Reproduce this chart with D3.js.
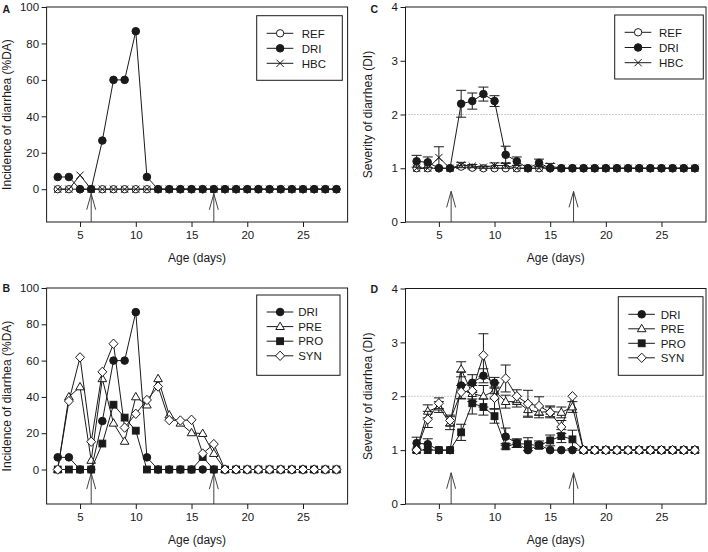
<!DOCTYPE html>
<html><head><meta charset="utf-8">
<script src="https://cdn.jsdelivr.net/npm/d3@7"></script>
<style>
body{margin:0;background:#fff}
svg{display:block}
</style>
</head><body>
<svg id="c" width="708" height="552"></svg>
<script>
// ---------------- DATA ----------------
const days = [3,4,5,6,7,8,9,10,11,12,13,14,15,16,17,18,19,20,21,22,23,24,25,26,27,28];
const xTicks = [5,10,15,20,25];
const incTicks = [0,20,40,60,80,100];
const sevTicks = [0,1,2,3,4];
const arrowDaysAB = [6,17];
const arrowDaysCD = [6.1,17.1];

// Panel A / B : incidence of diarrhea (%DA)
const incREF = [0,0,0,0,0,0,0,0,0,0,0,0,0,0,0,0,0,0,0,0,0,0,0,0,0,0];
const incDRI = [6.7,6.7,0,0,26.7,60,60,86.7,6.7,0,0,0,0,0,0,0,0,0,0,0,0,0,0,0,0,0];
const incHBC = [0,0,7.7,0,0,0,0,0,0,0,0,0,0,0,0,0,0,0,0,0,0,0,0,0,0,0];
const incPRE = [0,40,45.5,5,50,25.5,15.5,40,35.5,50,30,25.5,20.2,19.8,8.8,0,0,0,0,0,0,0,0,0,0,0];
const incPRO = [0,0,0,0,14.3,35.7,28.6,21.4,0,0,0,0,0,6.9,0,0,0,0,0,0,0,0,0,0,0,0];
const incSYN = [0,37.7,61.8,15.3,53.8,69.3,23.1,30.7,38.3,45.7,27.2,27,27.4,8.8,14,0,0,0,0,0,0,0,0,0,0,0];

// Panel C / D : severity of diarrhea (DI), mean and SE
const sevREF   = [1,1,1,1,1.03,1.01,1,1,1,1,1,1,1,1,1,1,1,1,1,1,1,1,1,1,1,1];
const sevREFse = [0,0,0,0,0.03,0.02,0,0,0,0,0,0,0,0,0,0,0,0,0,0,0,0,0,0,0,0];
const sevHBC   = [1,1,1.2,1,1.06,1.04,1.02,1.05,1.05,1,1,1,1.04,1,1,1,1,1,1,1,1,1,1,1,1,1];
const sevHBCse = [0,0,0.2,0,0.05,0.03,0.02,0.05,0.05,0,0,0,0.05,0,0,0,0,0,0,0,0,0,0,0,0,0];
const sevDRI   = [1.13,1.11,1,1,2.2,2.25,2.38,2.25,1.25,1.13,1,1.1,1,1,1,1,1,1,1,1,1,1,1,1,1,1];
const sevDRIse = [0.11,0.1,0,0,0.25,0.15,0.13,0.1,0.16,0.08,0,0.07,0,0,0,0,0,0,0,0,0,0,0,0,0,0];
const sevPRE   = [1,1.72,1.8,1.5,2.5,2.05,2.0,2.1,1.9,1.9,1.75,1.7,1.72,1.7,1.8,1,1,1,1,1,1,1,1,1,1,1];
const sevPREse = [0,0.12,0.1,0.12,0.14,0.15,0.2,0.15,0.12,0.1,0.12,0.1,0.1,0.1,0.1,0,0,0,0,0,0,0,0,0,0,0];
const sevPRO   = [1,1,1,1,1.33,1.87,1.8,1.63,1.07,1.12,1.11,1.08,1.18,1.26,1.2,1,1,1,1,1,1,1,1,1,1,1];
const sevPROse = [0,0,0,0,0.15,0.2,0.15,0.13,0.05,0.07,0.12,0.05,0.1,0.12,0.17,0,0,0,0,0,0,0,0,0,0,0];
const sevSYN   = [1,1.57,1.87,1.55,2.08,2.1,2.76,1.97,2.33,2.0,1.86,1.82,1.7,1.43,2.0,1,1,1,1,1,1,1,1,1,1,1];
const sevSYNse = [0,0.15,0.1,0.1,0.12,0.15,0.4,0.2,0.25,0.12,0.25,0.17,0.1,0.12,0,0,0,0,0,0,0,0,0,0,0,0];

// ---------------- DRAWING ----------------
const FONT = '"Liberation Sans", Arial, Helvetica, sans-serif';
const INK = "#1a1a1a";
const svg = d3.select("#c");

const markers = {
  circleOpen:  (g) => g.append("circle").attr("r", 3.7).attr("fill", "#fff").attr("stroke", INK),
  circleFill:  (g) => g.append("circle").attr("r", 3.8).attr("fill", INK).attr("stroke", INK),
  cross:       (g) => g.append("path").attr("d", "M-3.6,-3.6L3.6,3.6M-3.6,3.6L3.6,-3.6").attr("fill", "none").attr("stroke", INK),
  triangle:    (g) => g.append("path").attr("d", "M0,-4.5L4.3,2.9L-4.3,2.9Z").attr("fill", "#fff").attr("stroke", INK),
  square:      (g) => g.append("rect").attr("x", -3.4).attr("y", -3.4).attr("width", 6.8).attr("height", 6.8).attr("fill", INK).attr("stroke", INK),
  diamond:     (g) => g.append("path").attr("d", "M0,-4.7L4.5,0L0,4.7L-4.5,0Z").attr("fill", "#fff").attr("stroke", INK)
};

function drawPanel(cfg) {
  const g = svg.append("g");
  const x = d3.scaleLinear().domain([2, 29]).range([cfg.left, cfg.right]);
  const y = d3.scaleLinear().domain(cfg.yDomain).range([cfg.bottom, cfg.top]);

  // reference dotted line
  if (cfg.refLine !== undefined) {
    g.append("line")
      .attr("x1", cfg.left).attr("x2", cfg.right)
      .attr("y1", y(cfg.refLine)).attr("y2", y(cfg.refLine))
      .attr("stroke", "#9a9a9a").attr("stroke-width", 1).attr("stroke-dasharray", "1,2");
  }

  // arrows
  cfg.arrows.forEach(d => {
    const ax = x(d), ty = y(cfg.arrowTip);
    g.append("line").attr("x1", ax).attr("x2", ax).attr("y1", ty).attr("y2", cfg.bottom)
      .attr("stroke", "#444").attr("stroke-width", 1);
    g.append("path").attr("d", `M${ax-4.5},${ty+16}L${ax},${ty}L${ax+4.5},${ty+16}`)
      .attr("fill", "none").attr("stroke", "#444").attr("stroke-width", 1);
  });

  // series
  const line = d3.line().x((v, i) => x(days[i])).y(v => y(v));
  cfg.series.forEach(s => {
    const sg = g.append("g");
    sg.append("path").attr("d", line(s.values)).attr("fill", "none").attr("stroke", INK).attr("stroke-width", 1);
    if (s.se) {
      s.values.forEach((v, i) => {
        const e = s.se[i];
        if (!e) return;
        const cx = x(days[i]);
        sg.append("path")
          .attr("d", `M${cx},${y(v - e)}L${cx},${y(v + e)}M${cx-5},${y(v + e)}L${cx+5},${y(v + e)}M${cx-5},${y(v - e)}L${cx+5},${y(v - e)}`)
          .attr("fill", "none").attr("stroke", INK).attr("stroke-width", 1);
      });
    }
    s.values.forEach((v, i) => {
      const mg = sg.append("g").attr("transform", `translate(${x(days[i])},${y(v)})`);
      markers[s.marker](mg).attr("stroke-width", 1);
    });
  });

  // frame
  g.append("rect").attr("x", cfg.left).attr("y", cfg.top)
    .attr("width", cfg.right - cfg.left).attr("height", cfg.bottom - cfg.top)
    .attr("fill", "none").attr("stroke", INK).attr("stroke-width", 1);

  // axes
  const xa = g.append("g").attr("transform", `translate(0,${cfg.bottom})`)
    .call(d3.axisBottom(x).tickValues(xTicks).tickSize(5).tickPadding(4).tickFormat(d3.format("d")));
  const ya = g.append("g").attr("transform", `translate(${cfg.left},0)`)
    .call(d3.axisLeft(y).tickValues(cfg.yTicks).tickSize(5).tickPadding(2.5).tickFormat(d3.format("d")));
  [xa, ya].forEach(a => {
    a.select(".domain").remove();
    a.attr("font-family", FONT).attr("font-size", 11.5);
    a.selectAll("line").attr("stroke", INK);
    a.selectAll("text").attr("fill", INK);
  });

  // axis titles
  g.append("text").attr("x", (cfg.left + cfg.right) / 2).attr("y", cfg.bottom + 39.5)
    .attr("text-anchor", "middle").attr("font-family", FONT).attr("font-size", 12).attr("fill", INK)
    .text("Age (days)");
  g.append("text")
    .attr("transform", `translate(${cfg.yTitleX},${(cfg.top + cfg.bottom) / 2}) rotate(-90)`)
    .attr("text-anchor", "middle").attr("font-family", FONT).attr("font-size", 12).attr("fill", INK)
    .text(cfg.yTitle);

  // panel letter
  g.append("text").attr("x", cfg.letterX).attr("y", cfg.letterY)
    .attr("font-family", FONT).attr("font-size", 10.5).attr("font-weight", "bold").attr("fill", INK)
    .text(cfg.letter);

  // legend
  const L = cfg.legend;
  const lg = g.append("g");
  lg.append("rect").attr("x", L.x).attr("y", L.y).attr("width", L.w).attr("height", L.h)
    .attr("fill", "#fff").attr("stroke", INK).attr("stroke-width", 1);
  cfg.series.slice().sort((a, b) => a.legendOrder - b.legendOrder).forEach((s, i) => {
    const ry = L.y + L.first + i * L.step;
    lg.append("line").attr("x1", L.x + 10).attr("x2", L.x + 36.6).attr("y1", ry).attr("y2", ry)
      .attr("stroke", INK).attr("stroke-width", 1);
    const mg = lg.append("g").attr("transform", `translate(${L.x + 23.4},${ry})`);
    markers[s.marker](mg).attr("stroke-width", 1);
    lg.append("text").attr("x", L.x + L.textDx).attr("y", ry + 4.2)
      .attr("font-family", FONT).attr("font-size", 11.5).attr("fill", INK).text(s.name);
  });
}

drawPanel({
  letter: "A", letterX: 2.5, letterY: 13,
  left: 46.6, right: 347.6, top: 7, bottom: 222,
  yDomain: [-18, 100], yTicks: incTicks, yTitle: "Incidence of diarrhea (%DA)", yTitleX: 10.5,
  arrows: arrowDaysAB, arrowTip: -2.5,
  legend: {x: 256.7, y: 15.7, w: 85.6, h: 64.6, first: 17.6, step: 15, textDx: 45},
  series: [
    {name: "REF", values: incREF, marker: "circleOpen", legendOrder: 0},
    {name: "HBC", values: incHBC, marker: "cross", legendOrder: 2},
    {name: "DRI", values: incDRI, marker: "circleFill", legendOrder: 1}
  ]
});

drawPanel({
  letter: "B", letterX: 2.5, letterY: 292,
  left: 46.6, right: 347.6, top: 288, bottom: 504,
  yDomain: [-19, 100], yTicks: incTicks, yTitle: "Incidence of diarrhea (%DA)", yTitleX: 10.5,
  arrows: arrowDaysAB, arrowTip: -2,
  legend: {x: 256.7, y: 295, w: 83.3, h: 80.3, first: 17, step: 14.6, textDx: 41.5},
  series: [
    {name: "PRE", values: incPRE, marker: "triangle", legendOrder: 1},
    {name: "PRO", values: incPRO, marker: "square", legendOrder: 2},
    {name: "DRI", values: incDRI, marker: "circleFill", legendOrder: 0},
    {name: "SYN", values: incSYN, marker: "diamond", legendOrder: 3}
  ]
});

drawPanel({
  letter: "C", letterX: 370.5, letterY: 12.5, refLine: 2,
  left: 405.5, right: 706, top: 7, bottom: 222,
  yDomain: [0, 4], yTicks: sevTicks, yTitle: "Severity of diarrhea (DI)", yTitleX: 372,
  arrows: arrowDaysCD, arrowTip: 0.57,
  legend: {x: 614.7, y: 15, w: 88.6, h: 64, first: 17.3, step: 15.2, textDx: 44.3},
  series: [
    {name: "REF", values: sevREF, se: sevREFse, marker: "circleOpen", legendOrder: 0},
    {name: "HBC", values: sevHBC, se: sevHBCse, marker: "cross", legendOrder: 2},
    {name: "DRI", values: sevDRI, se: sevDRIse, marker: "circleFill", legendOrder: 1}
  ]
});

drawPanel({
  letter: "D", letterX: 370.5, letterY: 292.5, refLine: 2,
  left: 405.5, right: 706, top: 288.5, bottom: 504,
  yDomain: [0, 4], yTicks: sevTicks, yTitle: "Severity of diarrhea (DI)", yTitleX: 371.5,
  arrows: arrowDaysCD, arrowTip: 0.58,
  legend: {x: 618.3, y: 296.7, w: 84.7, h: 78.6, first: 17.6, step: 14.5, textDx: 42.4},
  series: [
    {name: "PRE", values: sevPRE, se: sevPREse, marker: "triangle", legendOrder: 1},
    {name: "PRO", values: sevPRO, se: sevPROse, marker: "square", legendOrder: 2},
    {name: "DRI", values: sevDRI, se: sevDRIse, marker: "circleFill", legendOrder: 0},
    {name: "SYN", values: sevSYN, se: sevSYNse, marker: "diamond", legendOrder: 3}
  ]
});
</script>
</body></html>
